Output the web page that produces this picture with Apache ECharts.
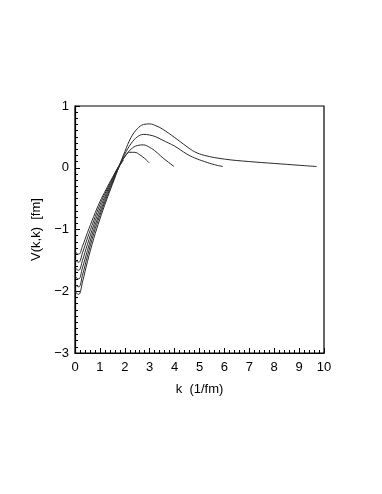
<!DOCTYPE html>
<html>
<head>
<meta charset="utf-8">
<script src="https://cdn.jsdelivr.net/npm/echarts@6/dist/echarts.min.js"></script>
<style>
html,body{margin:0;padding:0;background:#fff;}
#c{width:382px;height:494px;}
</style>
</head>
<body>
<div id="c"></div>
<script>
// k values (1/fm) and V(k,k) values (fm) per curve
var kA = [0,0.05,0.15,0.3,0.5,0.75,1.0,1.25,1.5,1.75,2.0,2.25,2.5,2.75,3.0,3.25,3.5,4.0,4.5,4.8,5.2,6.0,7.0,8.0,9.0,9.7];
var vA = [-2.00,-2.03,-2.05,-1.85,-1.52,-1.15,-0.83,-0.54,-0.27,0.0,0.26,0.49,0.63,0.70,0.71,0.68,0.63,0.49,0.34,0.26,0.20,0.14,0.10,0.07,0.04,0.02];
var kB = [0,0.05,0.15,0.3,0.5,0.75,1.0,1.25,1.5,1.75,2.0,2.25,2.5,2.75,3.0,3.25,3.5,4.0,4.5,4.8,5.2,5.6,5.94];
var vB = [-1.88,-1.91,-1.93,-1.74,-1.43,-1.07,-0.77,-0.50,-0.25,0.0,0.22,0.39,0.50,0.54,0.53,0.50,0.45,0.35,0.22,0.16,0.10,0.05,0.02];
var kC = [0,0.05,0.15,0.3,0.5,0.75,1.0,1.25,1.5,1.75,2.0,2.25,2.5,2.75,3.0,3.25,3.5,3.75,3.98];
var vC = [-1.75,-1.78,-1.80,-1.62,-1.34,-1.00,-0.72,-0.46,-0.23,0.0,0.18,0.30,0.36,0.37,0.33,0.26,0.17,0.09,0.02];
var kD = [0,0.05,0.15,0.3,0.5,0.75,1.0,1.25,1.5,1.75,2.0,2.2,2.4,2.6,2.8,2.98];
var vD = [-1.61,-1.64,-1.66,-1.50,-1.24,-0.93,-0.66,-0.42,-0.20,0.02,0.18,0.25,0.25,0.21,0.15,0.08];
var kE = [0,0.05,0.15,0.3,0.5,0.75,1.0,1.25,1.5,1.75,1.95];
var vE = [-1.48,-1.51,-1.53,-1.38,-1.14,-0.86,-0.60,-0.38,-0.18,0.01,0.12];
var kF = [0,0.05,0.15,0.3,0.5,0.75,1.0,1.25,1.5,1.75,1.85];
var vF = [-1.35,-1.38,-1.40,-1.27,-1.05,-0.79,-0.55,-0.35,-0.16,0.02,0.07];

var xTicks = [0,1,2,3,4,5,6,7,8,9,10];
var yTicks = [1,0,-1,-2,-3];

function pairs(k, v){ return k.map(function(x,i){ return [x, v[i]]; }); }
var curves = [[kA,vA],[kB,vB],[kC,vC],[kD,vD],[kE,vE],[kF,vF]];

var chart = echarts.init(document.getElementById('c'), null, {renderer:'canvas'});
var font = 'Liberation Sans, Arial, Helvetica, sans-serif';
chart.setOption({
  animation:false,
  backgroundColor:'#fff',
  grid:{left:75,right:58,top:106,bottom:141,show:true,borderColor:'#000',borderWidth:1.2,backgroundColor:'transparent'},
  xAxis:{
    type:'value',min:0,max:10,interval:1,
    name:'k  (1/fm)',nameLocation:'middle',nameGap:30,
    nameTextStyle:{color:'#000',fontSize:13,fontFamily:font},
    axisLine:{show:true,onZero:false,lineStyle:{color:'#000',width:1.2}},
    axisTick:{show:true,inside:true,length:5,lineStyle:{color:'#000'}},
    minorTick:{show:true,splitNumber:5,length:3,lineStyle:{color:'#000'}},
    axisLabel:{color:'#000',fontSize:13,fontFamily:font,margin:8,
      formatter:function(v){return xTicks.indexOf(v)>=0?String(v):'';}},
    splitLine:{show:false}
  },
  yAxis:{
    type:'value',min:-3,max:1,interval:1,
    name:'V(k,k)  [fm]',nameLocation:'middle',nameGap:29,nameRotate:90,
    nameTextStyle:{color:'#000',fontSize:13,fontFamily:font},
    axisLine:{show:true,onZero:false,lineStyle:{color:'#000',width:1.2}},
    axisTick:{show:true,inside:true,length:5,lineStyle:{color:'#000'}},
    minorTick:{show:true,splitNumber:10,length:3,lineStyle:{color:'#000'}},
    axisLabel:{color:'#000',fontSize:13,fontFamily:font,margin:6,
      formatter:function(v){return yTicks.indexOf(v)>=0?(v<0?'\u2212'+Math.abs(v):String(v)):'';}},
    splitLine:{show:false}
  },
  series: curves.map(function(c){
    return {type:'line',data:pairs(c[0],c[1]),smooth:0.4,showSymbol:false,
      lineStyle:{color:'#2a2a2a',width:1},silent:true};
  })
});
</script>
</body>
</html>
